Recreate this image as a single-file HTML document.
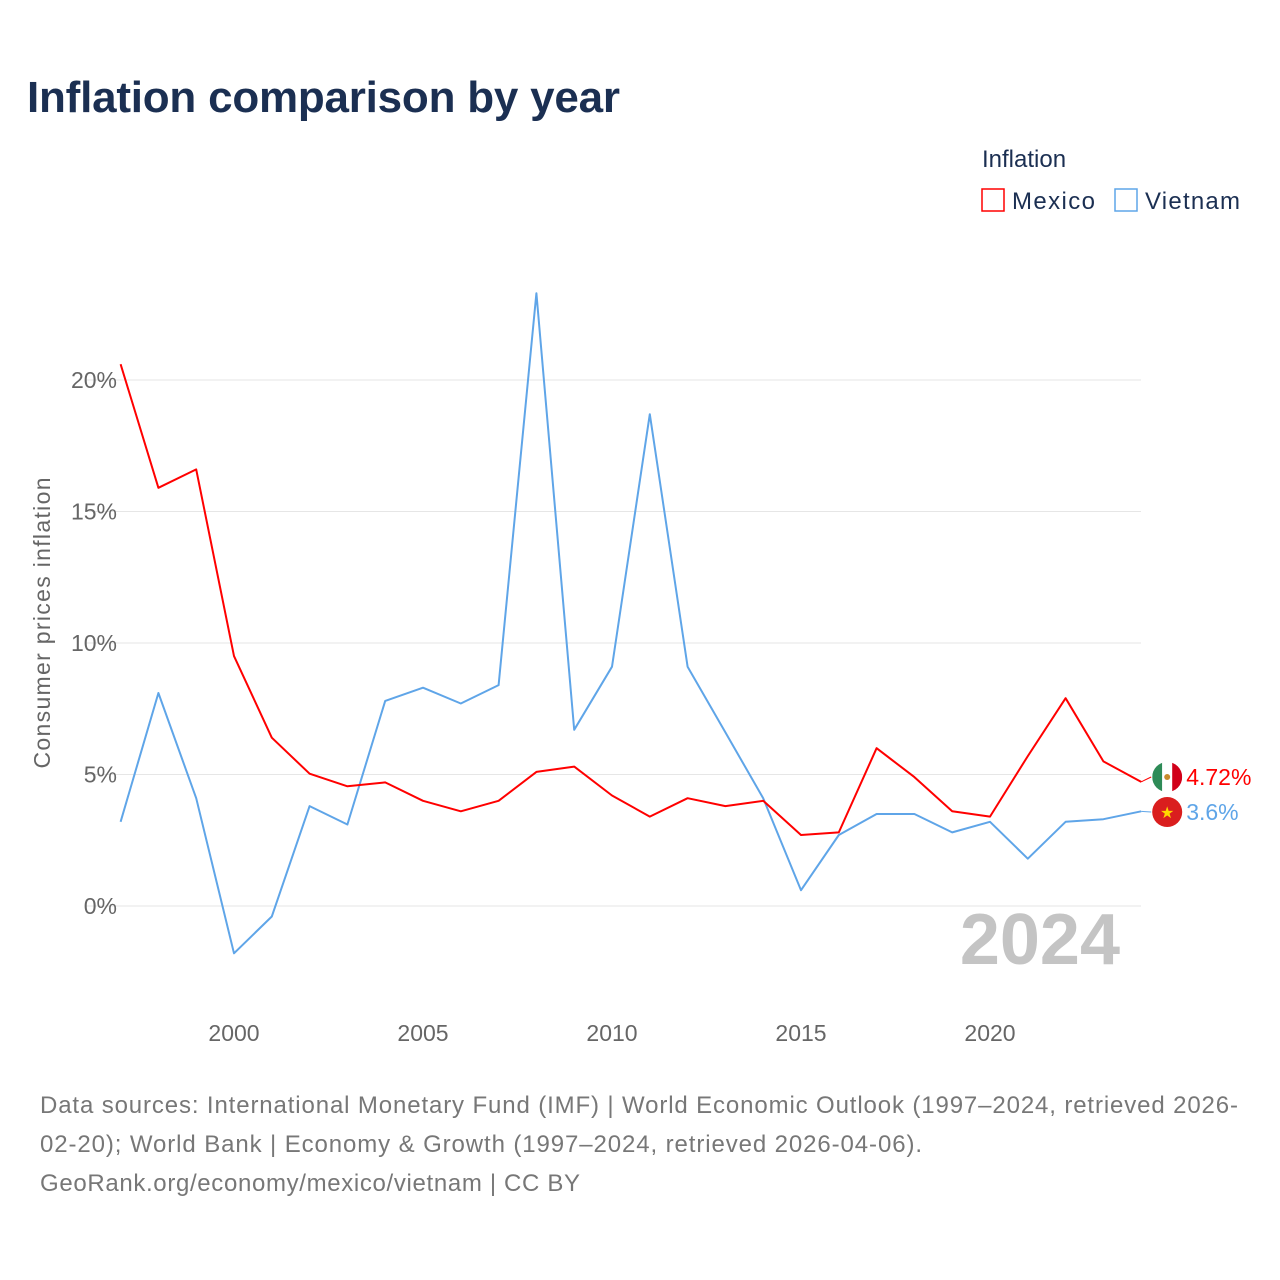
<!DOCTYPE html>
<html><head><meta charset="utf-8">
<style>
body{margin:0;background:#fff;font-family:"Liberation Sans",sans-serif;}
#wrap{position:relative;width:1280px;height:1280px;overflow:hidden;}
svg text{font-family:"Liberation Sans",sans-serif;}
</style></head>
<body>
<div id="wrap">
<svg id="chart" width="1280" height="1280">
  <text x="27" y="112" font-size="44" font-weight="bold" fill="#1b2f52" textLength="593">Inflation comparison by year</text>
  <text x="982" y="167" font-size="24" fill="#1b2f52">Inflation</text>
  <g>
    <rect x="982" y="189" width="22" height="22" fill="none" stroke="#f00" stroke-width="1.5"/>
    <text x="1012" y="209" font-size="24" fill="#1b2f52" textLength="83">Mexico</text>
  </g>
  <g>
    <rect x="1115" y="189" width="22" height="22" fill="none" stroke="#5fa5e8" stroke-width="1.5"/>
    <text x="1145" y="209" font-size="24" fill="#1b2f52" textLength="95">Vietnam</text>
  </g>
  <text transform="translate(50,623) rotate(-90)" text-anchor="middle" font-size="23" fill="#666" textLength="291">Consumer prices inflation</text>
  <g id="grid"></g>
  <text x="1120" y="964" text-anchor="end" font-size="72" font-weight="bold" fill="#c4c4c4">2024</text>
  <g id="series"></g>
  <text x="40" y="1113" font-size="24" fill="#777" textLength="1198">Data sources: International Monetary Fund (IMF) | World Economic Outlook (1997–2024, retrieved 2026-</text>
  <text x="40" y="1152" font-size="24" fill="#777" textLength="882">02-20); World Bank | Economy &amp; Growth (1997–2024, retrieved 2026-04-06).</text>
  <text x="40" y="1191" font-size="24" fill="#777" textLength="540">GeoRank.org/economy/mexico/vietnam | CC BY</text>
</svg>
</div>
<script>
const years = [1997,1998,1999,2000,2001,2002,2003,2004,2005,2006,2007,2008,2009,2010,2011,2012,2013,2014,2015,2016,2017,2018,2019,2020,2021,2022,2023,2024];
const mexico = [20.6,15.9,16.6,9.5,6.4,5.03,4.55,4.7,4.0,3.6,4.0,5.1,5.3,4.2,3.4,4.1,3.8,4.0,2.7,2.8,6.0,4.9,3.6,3.4,5.7,7.9,5.5,4.72];
const vietnam = [3.2,8.1,4.1,-1.8,-0.4,3.8,3.1,7.8,8.3,7.7,8.4,23.3,6.7,9.1,18.7,9.1,6.6,4.1,0.6,2.7,3.5,3.5,2.8,3.2,1.8,3.2,3.3,3.6];
const yTicks = [0,5,10,15,20];
const yTickLabels = ["0%","5%","10%","15%","20%"];
const xTicks = [2000,2005,2010,2015,2020];

const NS="http://www.w3.org/2000/svg";
const xS = y => 120.6 + (y-1997)*37.8;
const yS = v => 906 - v*26.3;
function mk(tag, attrs, parent){const e=document.createElementNS(NS,tag);for(const k in attrs)e.setAttribute(k,attrs[k]);parent.appendChild(e);return e;}
const grid=document.getElementById('grid'), ser=document.getElementById('series');
yTicks.forEach((t,i)=>{
  const l=mk('line',{x1:85,x2:1141,y1:yS(t),y2:yS(t),stroke:'#e6e6e6','stroke-width':1},grid);
  
  
  const tx=mk('text',{x:117,y:yS(t)+8,'text-anchor':'end','font-size':23,fill:'#666'},grid);
  tx.textContent=yTickLabels[i];
  
  
});
xTicks.forEach(t=>{
  const tx=mk('text',{x:xS(t),y:1041,'text-anchor':'middle','font-size':23,fill:'#666'},grid);
  tx.textContent=t;
  
  
});
function line(vals,color,name){
  const d=vals.map((v,i)=>(i?'L':'M')+xS(years[i]).toFixed(1)+','+yS(v).toFixed(1)).join('');
  const p=mk('path',{d:d,fill:'none',stroke:color,'stroke-width':2,'stroke-linejoin':'round'},ser);
  
  
}
line(vietnam,'#5fa5e8','vietnam-line');
line(mexico,'#f00','mexico-line');
const lastM=mexico[mexico.length-1], lastV=vietnam[vietnam.length-1];
const xe=xS(years[years.length-1]);
function endLabel(v,ly,color,name,label,flag){
  const g=mk('g',{},ser);
  
  
  mk('line',{x1:xe,y1:yS(v),x2:xe+10,y2:ly,stroke:color,'stroke-width':1},g);
  flag(g,xe+26,ly);
  const t=mk('text',{x:xe+45,y:ly+8,'font-size':23,fill:color},g);
  t.textContent=label;
}
endLabel(lastM,777,'#f00','mexico-end-label',lastM+'%',(g,cx,cy)=>{
  const cp=mk('clipPath',{id:'cm'},g);mk('circle',{cx:cx,cy:cy,r:15},cp);
  const f=mk('g',{'clip-path':'url(#cm)'},g);
  mk('rect',{x:cx-15,y:cy-15,width:10,height:30,fill:'#2e8b57'},f);
  mk('rect',{x:cx-5,y:cy-15,width:10,height:30,fill:'#fff'},f);
  mk('rect',{x:cx+5,y:cy-15,width:10,height:30,fill:'#d10019'},f);
  mk('circle',{cx:cx,cy:cy,r:3,fill:'#c88a2c'},f);
});
endLabel(lastV,812,'#5fa5e8','vietnam-end-label',lastV+'%',(g,cx,cy)=>{
  mk('circle',{cx:cx,cy:cy,r:15,fill:'#da1e1e'},g);
  const t=mk('text',{x:cx,y:cy+6,'text-anchor':'middle','font-size':16,fill:'#ffd700'},g);
  t.textContent='★';
});
</script>
</body></html>
